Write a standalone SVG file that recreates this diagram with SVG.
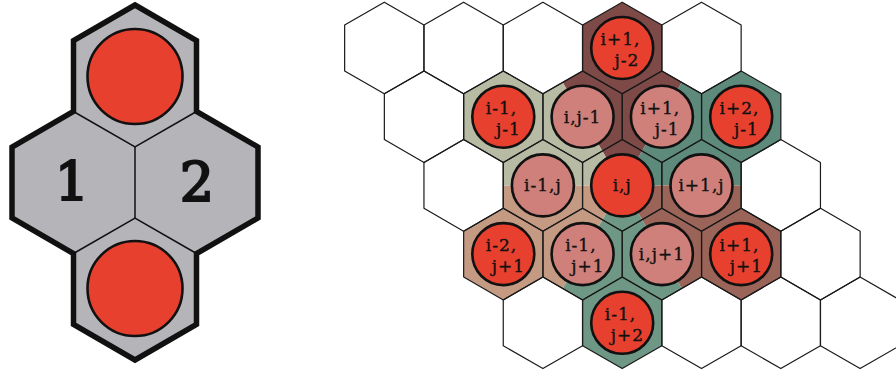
<svg xmlns="http://www.w3.org/2000/svg" xmlns:xlink="http://www.w3.org/1999/xlink" width="896" height="370" viewBox="0 0 896 370">
<style>
.hex{fill:none;stroke:#1a1a1a;stroke-width:1.2;stroke-linejoin:round}
.red{fill:#e8402e;stroke:#111;stroke-width:2.6}
.pink{fill:#cf807a;stroke:#111;stroke-width:2.6}
.lbl{font-family:"DejaVu Serif",serif;font-size:17px;letter-spacing:1px;fill:#111;stroke:#111;stroke-width:0.35;text-anchor:middle}
.big{font-family:"DejaVu Serif",serif;font-size:54px;fill:#111;stroke:#111;stroke-width:2.2;text-anchor:middle}
.inner{fill:none;stroke:#111;stroke-width:1.5}
</style>
<defs>
<polygon id="hx" points="0,-45.8 39.65,-22.9 39.65,22.9 0,45.8 -39.65,22.9 -39.65,-22.9"/>
<clipPath id="colclip">
<use href="#hx" x="622.2" y="48"/>
<use href="#hx" x="503.3" y="116.7"/>
<use href="#hx" x="582.6" y="116.7"/>
<use href="#hx" x="661.9" y="116.7"/>
<use href="#hx" x="741.2" y="116.7"/>
<use href="#hx" x="542.9" y="185.4"/>
<use href="#hx" x="622.2" y="185.4"/>
<use href="#hx" x="701.5" y="185.4"/>
<use href="#hx" x="503.3" y="254.1"/>
<use href="#hx" x="582.6" y="254.1"/>
<use href="#hx" x="661.9" y="254.1"/>
<use href="#hx" x="741.2" y="254.1"/>
<use href="#hx" x="622.2" y="322.8"/>
</clipPath>
</defs>
<rect width="896" height="370" fill="#fff"/>

<!-- Left figure -->
<g id="pair">
<polygon points="135,5 196.5,40.5 196.5,111.5 258,147 258,218 196.5,253.5 196.5,324.5 135,360 73.5,324.5 73.5,253.5 12,218 12,147 73.5,111.5 73.5,40.5" fill="#b5b5b9" stroke="#111" stroke-width="5.5" stroke-linejoin="miter"/>
<polyline class="inner" points="73.5,111.5 135,147 196.5,111.5"/>
<line class="inner" x1="135" y1="147" x2="135" y2="218"/>
<polyline class="inner" points="73.5,253.5 135,218 196.5,253.5"/>
<circle class="red" cx="135" cy="76.5" r="47.5"/>
<circle class="red" cx="135" cy="288.5" r="47.5"/>
<text class="big" x="72" y="201">1</text>
<text class="big" x="197" y="201">2</text>
</g>

<!-- colored regions -->
<g id="regions" clip-path="url(#colclip)">
<polygon points="622.2,185.4 472.2,-74.4 772.2,-74.4" fill="#7e4a48"/>
<polygon points="622.2,185.4 772.2,-74.4 922.2,185.4" fill="#5e8a7b"/>
<polygon points="622.2,185.4 922.2,185.4 772.2,445.2" fill="#9a6458"/>
<polygon points="622.2,185.4 772.2,445.2 472.2,445.2" fill="#6f9786"/>
<polygon points="622.2,185.4 472.2,445.2 322.2,185.4" fill="#c49a83"/>
<polygon points="622.2,185.4 322.2,185.4 472.2,-74.4" fill="#b8bba3"/>
</g>

<!-- empty cells -->
<g id="c00"><use class="hex" href="#hx" x="384.3" y="48"/></g>
<g id="c01"><use class="hex" href="#hx" x="463.6" y="48"/></g>
<g id="c02"><use class="hex" href="#hx" x="542.9" y="48"/></g>
<g id="c04"><use class="hex" href="#hx" x="701.5" y="48"/></g>
<g id="c10"><use class="hex" href="#hx" x="424" y="116.7"/></g>
<g id="c20"><use class="hex" href="#hx" x="463.6" y="185.4"/></g>
<g id="c24"><use class="hex" href="#hx" x="780.8" y="185.4"/></g>
<g id="c34"><use class="hex" href="#hx" x="820.5" y="254.1"/></g>
<g id="c40"><use class="hex" href="#hx" x="542.9" y="322.8"/></g>
<g id="c42"><use class="hex" href="#hx" x="701.5" y="322.8"/></g>
<g id="c43"><use class="hex" href="#hx" x="780.8" y="322.8"/></g>
<g id="c44"><use class="hex" href="#hx" x="860.1" y="322.8"/></g>

<!-- labelled cells -->
<g id="n_ip1_jm2"><use class="hex" href="#hx" x="622.2" y="48"/><circle class="red" cx="622.2" cy="48" r="31"/><text class="lbl" x="620.5" y="45">i+1,</text><text class="lbl" x="627" y="66">j-2</text></g>
<g id="n_im1_jm1"><use class="hex" href="#hx" x="503.3" y="116.7"/><circle class="red" cx="503.3" cy="116.7" r="31"/><text class="lbl" x="501.5" y="113.7">i-1,</text><text class="lbl" x="508.5" y="134.7">j-1</text></g>
<g id="n_i_jm1"><use class="hex" href="#hx" x="582.6" y="116.7"/><circle class="pink" cx="582.6" cy="116.7" r="31"/><text class="lbl" x="582.6" y="122.7">i,j-1</text></g>
<g id="n_ip1_jm1"><use class="hex" href="#hx" x="661.9" y="116.7"/><circle class="pink" cx="661.9" cy="116.7" r="31"/><text class="lbl" x="660.2" y="113.7">i+1,</text><text class="lbl" x="667.1" y="134.7">j-1</text></g>
<g id="n_ip2_jm1"><use class="hex" href="#hx" x="741.2" y="116.7"/><circle class="red" cx="741.2" cy="116.7" r="31"/><text class="lbl" x="739.5" y="113.7">i+2,</text><text class="lbl" x="746.4" y="134.7">j-1</text></g>
<g id="n_im1_j"><use class="hex" href="#hx" x="542.9" y="185.4"/><circle class="pink" cx="542.9" cy="185.4" r="31"/><text class="lbl" x="542.9" y="191.4">i-1,j</text></g>
<g id="n_i_j"><use class="hex" href="#hx" x="622.2" y="185.4"/><circle class="red" cx="622.2" cy="185.4" r="31"/><text class="lbl" x="622.2" y="191.4">i,j</text></g>
<g id="n_ip1_j"><use class="hex" href="#hx" x="701.5" y="185.4"/><circle class="pink" cx="701.5" cy="185.4" r="31"/><text class="lbl" x="701.5" y="191.4">i+1,j</text></g>
<g id="n_im2_jp1"><use class="hex" href="#hx" x="503.3" y="254.1"/><circle class="red" cx="503.3" cy="254.1" r="31"/><text class="lbl" x="501.5" y="251.1">i-2,</text><text class="lbl" x="508.5" y="272.1">j+1</text></g>
<g id="n_im1_jp1"><use class="hex" href="#hx" x="582.6" y="254.1"/><circle class="pink" cx="582.6" cy="254.1" r="31"/><text class="lbl" x="580.9" y="251.1">i-1,</text><text class="lbl" x="587.8" y="272.1">j+1</text></g>
<g id="n_i_jp1"><use class="hex" href="#hx" x="661.9" y="254.1"/><circle class="pink" cx="661.9" cy="254.1" r="31"/><text class="lbl" x="661.9" y="260.1">i,j+1</text></g>
<g id="n_ip1_jp1"><use class="hex" href="#hx" x="741.2" y="254.1"/><circle class="red" cx="741.2" cy="254.1" r="31"/><text class="lbl" x="739.5" y="251.1">i+1,</text><text class="lbl" x="746.4" y="272.1">j+1</text></g>
<g id="n_im1_jp2"><use class="hex" href="#hx" x="622.2" y="322.8"/><circle class="red" cx="622.2" cy="322.8" r="31"/><text class="lbl" x="620.5" y="319.8">i-1,</text><text class="lbl" x="627.4" y="340.8">j+2</text></g>
</svg>
